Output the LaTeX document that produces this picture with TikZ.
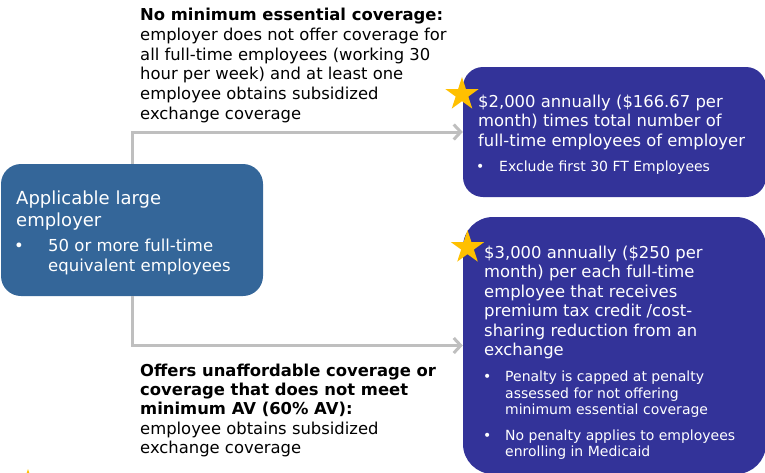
\documentclass[tikz,border=0pt]{standalone}
\usepackage{fontspec}
\setmainfont{DejaVu Sans}
\usetikzlibrary{arrows.meta,shapes.geometric}

\definecolor{leftblue}{RGB}{52,102,153}
\definecolor{navy}{RGB}{51,51,153}
\definecolor{gold}{RGB}{255,192,0}
\definecolor{linegray}{RGB}{191,191,191}

\tikzset{
  conn/.style={draw=linegray, line width=3pt, -{Straight Barb[length=7pt,width=15pt]}},
  lbox/.style={fill=leftblue, rounded corners=20pt, inner sep=0pt},
  rbox/.style={fill=navy, inner sep=0pt},
  lbl/.style={anchor=north west, inner sep=0pt, align=left},
  onebase/.style={anchor=base west, inner sep=0pt},
  mainfont/.style={font=\fontsize{16.4}{19.6}\selectfont},
  smallfont/.style={font=\fontsize{14}{16.2}\selectfont},
  goldstar/.style={star, star points=5, star point ratio=2.618, fill=gold,
    inner sep=0pt, minimum size=35pt}
}

\begin{document}
\begin{tikzpicture}[x=1pt, y=-1pt]
\useasboundingbox (0,0) rectangle (765,472);

% boxes
\node[lbox, minimum width=262pt, minimum height=132pt] (L) at (132,230) {};
\node[rbox, rounded corners=20pt, minimum width=303pt, minimum height=130pt] (R1) at (614.5,132) {};
\node[rbox, rounded corners=30pt, minimum width=303pt, minimum height=257pt] (R2) at (614.5,345.5) {};

% connectors
\draw[conn] (L.north) |- (R1.west);
\draw[conn] (L.south) |- (R2.west);

% stars
\node[goldstar] (s1) at (462,94.5) {};
\node[goldstar] (s2) at (467.5,247.5) {};
\begin{scope}
  \clip (0,0) rectangle (765,472);
  \node[goldstar] (s3) at (28,486.5) {};
\end{scope}

% condition labels
\node[lbl, font=\fontsize{16.4}{19.7}\selectfont] (top) at (140,6.5)
  {\rule{0pt}{14pt}\textbf{No minimum essential coverage:}\\
   employer does not offer coverage for\\
   all full-time employees (working 30\\
   hour per week) and at least one\\
   employee obtains subsidized\\
   exchange coverage};

\node[lbl, font=\fontsize{16.4}{19.3}\selectfont] (bot) at (140,362)
  {\rule{0pt}{14pt}\textbf{Offers unaffordable coverage or}\\
   \textbf{coverage that does not meet}\\
   \textbf{minimum AV (60\% AV):}\\
   employee obtains subsidized\\
   exchange coverage};

% employer box text
\node[lbl, text=white, font=\fontsize{18}{22.5}\selectfont] (Lt) at (16,189)
  {\rule{0pt}{15pt}Applicable large\\employer};
\node[onebase, text=white, font=\fontsize{16.5}{20}\selectfont] (Lb) at (14,251.7) {•};
\node[lbl, text=white, font=\fontsize{16.5}{20}\selectfont] (Lbt) at (48,237.7)
  {\rule{0pt}{14pt}50 or more full-time\\equivalent employees};

% upper penalty box text
\node[lbl, text=white, font=\fontsize{16.4}{19.5}\selectfont] (R1t) at (478,93)
  {\rule{0pt}{14pt}\$2,000 annually (\$166.67 per\\
   month) times total number of\\
   full-time employees of employer};
\node[onebase, text=white, smallfont] (R1b) at (476,171) {•};
\node[onebase, text=white, smallfont] (R1bt) at (499,171) {Exclude first 30 FT Employees};

% lower penalty box text
\node[lbl, text=white, font=\fontsize{16.4}{19.45}\selectfont] (R2t) at (484,244)
  {\rule{0pt}{14pt}\$3,000 annually (\$250 per\\
   month) per each full-time\\
   employee that receives\\
   premium tax credit /cost-\\
   sharing reduction from an\\
   exchange};
\node[onebase, text=white, smallfont] (R2b1) at (483,381.7) {•};
\node[lbl, text=white, smallfont] (R2b1t) at (505,369.7)
  {\rule{0pt}{12pt}Penalty is capped at penalty\\
   assessed for not offering\\
   minimum essential coverage};
\node[onebase, text=white, smallfont] (R2b2) at (483,440) {•};
\node[lbl, text=white, smallfont] (R2b2t) at (505,428)
  {\rule{0pt}{12pt}No penalty applies to employees\\
   enrolling in Medicaid};
\end{tikzpicture}
\end{document}
